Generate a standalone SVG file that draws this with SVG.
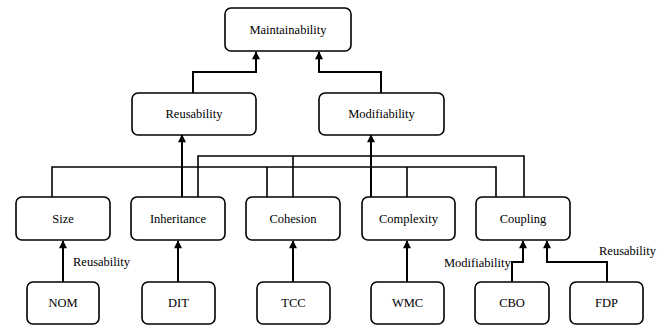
<svg xmlns="http://www.w3.org/2000/svg" width="668" height="326" viewBox="0 0 668 326">
<style>
.box{fill:#fff;stroke:#000;stroke-width:1.6}
text{font-family:'Liberation Serif','Times New Roman','DejaVu Serif',serif;font-size:12.5px;fill:#000}
.t{text-anchor:middle;dominant-baseline:central}
.c{fill:none;stroke:#000;stroke-width:1.6}
.a{fill:none;stroke:#000;stroke-width:2;marker-end:url(#arr)}
</style>
<defs>
<marker id="arr" viewBox="0 0 10 10" refX="9" refY="5" markerWidth="9" markerHeight="8" markerUnits="userSpaceOnUse" orient="auto">
<path d="M0,0 L10,5 L0,10 z" fill="#000"/>
</marker>
</defs>
<rect width="668" height="326" fill="#fff"/>
<g id="connectors">
<path class="c" d="M52,197 V167 H496 V197"/>
<path class="c" d="M267,167 V197"/>
<path class="c" d="M407,167 V197"/>
<path class="c" d="M198,197 V156 H524 V197"/>
<path class="c" d="M293,156 V197"/>
<path class="a" d="M182,197 V135"/>
<path class="a" d="M371,197 V135"/>
<path class="a" d="M193,93 V72 H256 V52"/>
<path class="a" d="M381,93 V72 H319 V52"/>
<path class="a" d="M63,282 V241"/>
<path class="a" d="M178,282 V241"/>
<path class="a" d="M293,282 V241"/>
<path class="a" d="M407,282 V241"/>
<path class="a" d="M512,282 V262 H523 V241"/>
<path class="a" d="M607,282 V262 H547 V241"/>
</g>
<g id="labels">
<text x="73" y="266">Reusability</text>
<text x="444" y="267">Modifiability</text>
<text x="599" y="255">Reusability</text>
</g>
<g id="maintainability"><rect class="box" x="225" y="8" width="126" height="43" rx="6"/><text class="t" x="288" y="29.5">Maintainability</text></g>
<g id="reusability"><rect class="box" x="132" y="93" width="124" height="42" rx="6"/><text class="t" x="194" y="114">Reusability</text></g>
<g id="modifiability"><rect class="box" x="319" y="93" width="125" height="42" rx="6"/><text class="t" x="381.5" y="114">Modifiability</text></g>
<g id="size"><rect class="box" x="16" y="197" width="94" height="43" rx="6"/><text class="t" x="63" y="218.5">Size</text></g>
<g id="inheritance"><rect class="box" x="131" y="197" width="94" height="43" rx="6"/><text class="t" x="178" y="218.5">Inheritance</text></g>
<g id="cohesion"><rect class="box" x="246" y="197" width="94" height="43" rx="6"/><text class="t" x="293" y="218.5">Cohesion</text></g>
<g id="complexity"><rect class="box" x="362" y="197" width="93" height="43" rx="6"/><text class="t" x="408.5" y="218.5">Complexity</text></g>
<g id="coupling"><rect class="box" x="476" y="197" width="94" height="43" rx="6"/><text class="t" x="523" y="218.5">Coupling</text></g>
<g id="nom"><rect class="box" x="27" y="282" width="72" height="42" rx="6"/><text class="t" x="63" y="303">NOM</text></g>
<g id="dit"><rect class="box" x="142" y="282" width="73" height="42" rx="6"/><text class="t" x="178.5" y="303">DIT</text></g>
<g id="tcc"><rect class="box" x="257" y="282" width="73" height="42" rx="6"/><text class="t" x="293.5" y="303">TCC</text></g>
<g id="wmc"><rect class="box" x="371" y="282" width="73" height="42" rx="6"/><text class="t" x="407.5" y="303">WMC</text></g>
<g id="cbo"><rect class="box" x="475" y="282" width="74" height="42" rx="6"/><text class="t" x="512" y="303">CBO</text></g>
<g id="fdp"><rect class="box" x="570" y="282" width="73" height="42" rx="6"/><text class="t" x="606.5" y="303">FDP</text></g>
</svg>
